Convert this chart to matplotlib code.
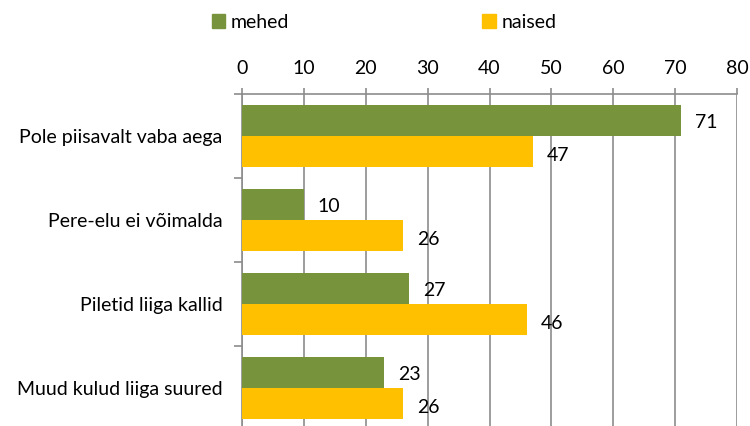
import numpy as np
import matplotlib.pyplot as plt
from matplotlib.patches import Patch

# data
categories = ["Pole piisavalt vaba aega", "Pere-elu ei võimalda",
              "Piletid liiga kallid", "Muud kulud liiga suured"]
mehed = [71, 10, 27, 23]
naised = [47, 26, 46, 26]
series_names = ["mehed", "naised"]

green = "#77933C"
yellow = "#FFC000"
grid_col = "#8C8C8C"

plt.rcParams['font.family'] = ['Lato', 'DejaVu Sans']
fs = 14

fig = plt.figure(figsize=(7.5, 4.26), dpi=100)
ax = fig.add_axes([242 / 750, 1 - 430 / 426, 495 / 750, 336 / 426])

y = np.arange(len(categories))
h = 0.365
ax.barh(y - h / 2, mehed, height=h, color=green, zorder=3)
ax.barh(y + h / 2, naised, height=h, color=yellow, zorder=3)

# value labels
for i, (m, n) in enumerate(zip(mehed, naised)):
    ax.annotate(str(m), (m, i - h / 2), xytext=(10, -1), textcoords="offset points",
                va="center", ha="left", fontsize=fs, color="black", zorder=4)
    ax.annotate(str(n), (n, i + h / 2), xytext=(10, -3), textcoords="offset points",
                va="center", ha="left", fontsize=fs, color="black", zorder=4)

ax.set_xlim(0, 80)
ax.set_ylim(len(categories) - 0.5, -0.5)
ax.set_xticks(np.arange(0, 81, 10))
ax.xaxis.tick_top()
ax.tick_params(axis="x", length=4, width=1.2, color=grid_col, pad=8, labelsize=fs)
ax.grid(axis="x", color=grid_col, linewidth=1.2, zorder=0)

# category ticks: labels centered, tick marks at boundaries
ax.set_yticks(y)
ax.set_yticklabels(categories, fontsize=fs)
ax.tick_params(axis="y", length=0, pad=14)
ax.set_yticks(np.arange(-0.5, len(categories), 1.0), minor=True)
ax.tick_params(axis="y", which="minor", length=6, width=1.2, color=grid_col)

for side in ["right", "bottom"]:
    ax.spines[side].set_visible(False)
for side in ["top", "left"]:
    ax.spines[side].set_color(grid_col)
    ax.spines[side].set_linewidth(1.2)

handles = [Patch(color=green, label=series_names[0]),
           Patch(color=yellow, label=series_names[1])]
fig.legend(handles=handles, loc="upper left", bbox_to_anchor=(198 / 750, 1.0),
           ncol=2, frameon=False, fontsize=fs, handlelength=0.7, handleheight=0.7,
           handletextpad=0.3, columnspacing=9.9, borderaxespad=0.3)

fig.savefig("out.png", dpi=100)
